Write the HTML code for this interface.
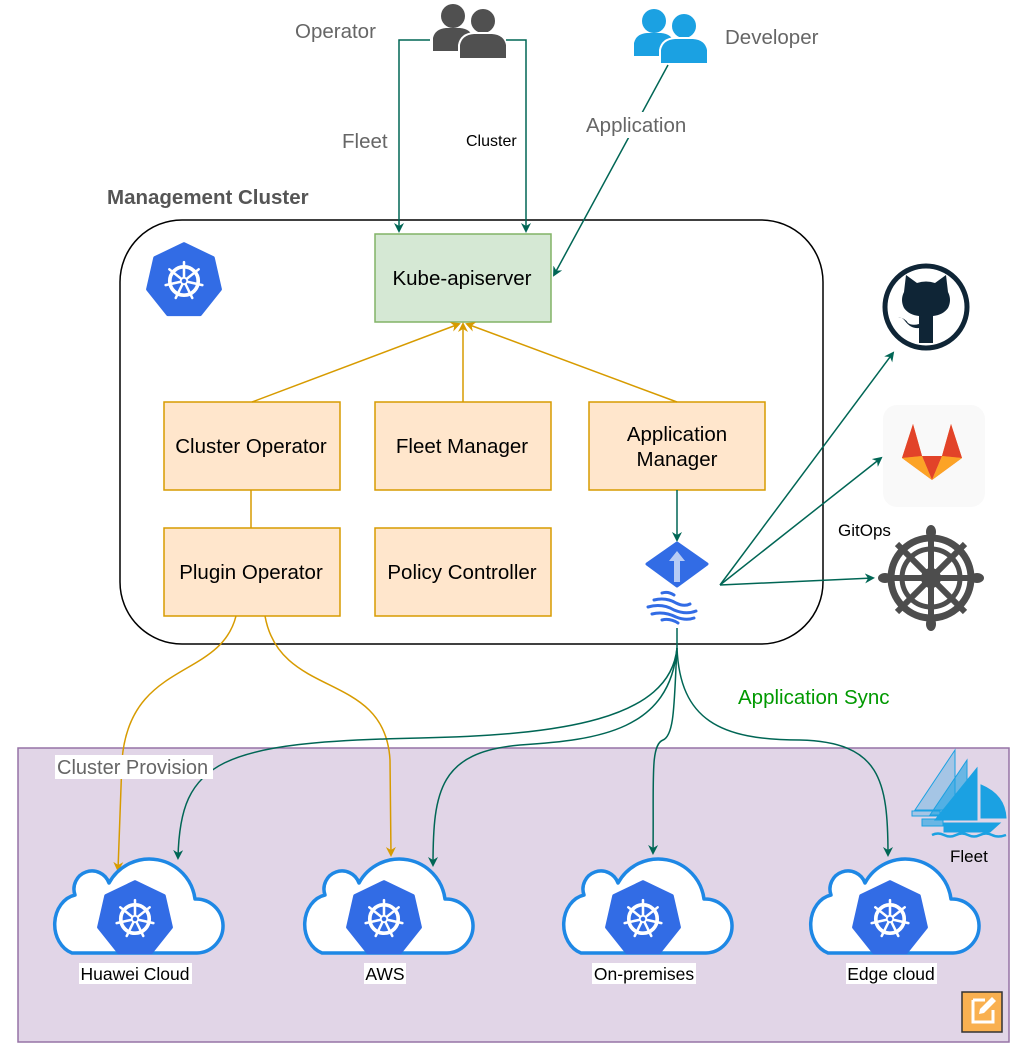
<!DOCTYPE html>
<html><head><meta charset="utf-8"><style>
html,body{margin:0;padding:0;background:#fff;}
svg{display:block;font-family:"Liberation Sans",Arial,sans-serif;}
</style></head><body>
<svg width="1029" height="1060" viewBox="0 0 1029 1060" xmlns="http://www.w3.org/2000/svg">
<defs>
  <marker id="ag" markerWidth="10" markerHeight="10" refX="8" refY="5" orient="auto" markerUnits="userSpaceOnUse">
    <path d="M0,0 L10,5 L0,10 L3,5 Z" fill="#006655"/>
  </marker>
  <marker id="ao" markerWidth="10" markerHeight="10" refX="8" refY="5" orient="auto" markerUnits="userSpaceOnUse">
    <path d="M0,0 L10,5 L0,10 L3,5 Z" fill="#d79b00"/>
  </marker>
  <g id="wheel">
    <circle r="0.62" fill="none" stroke="#fff" stroke-width="0.16"/>
    <g stroke="#fff" stroke-width="0.11" stroke-linecap="round">
      <line x1="0" y1="0" x2="0" y2="-0.82"/>
      <line x1="0" y1="0" x2="0.64" y2="-0.51"/>
      <line x1="0" y1="0" x2="0.80" y2="0.18"/>
      <line x1="0" y1="0" x2="0.36" y2="0.74"/>
      <line x1="0" y1="0" x2="-0.36" y2="0.74"/>
      <line x1="0" y1="0" x2="-0.80" y2="0.18"/>
      <line x1="0" y1="0" x2="-0.64" y2="-0.51"/>
    </g>
    <circle r="0.14" fill="#326ce5" stroke="#fff" stroke-width="0.08"/>
  </g>
  <g id="k8s">
    <polygon points="0,-1 0.782,-0.623 0.975,0.223 0.434,0.901 -0.434,0.901 -0.975,0.223 -0.782,-0.623" fill="#326ce5" stroke="#326ce5" stroke-width="0.1" stroke-linejoin="round"/>
    <g transform="scale(0.62)"><use href="#wheel"/></g>
  </g>
  <g id="cloud">
    <path d="M25,100 A25,30 0 0 1 28,42 A18,18 0 0 1 62,30 A46,46 0 0 1 148,46 A27,27 0 0 1 150,100 Z" fill="#fff" stroke="#1e88e5" stroke-width="3.5" stroke-linejoin="round"/>
  </g>
  <g id="users">
    <circle cx="21" cy="13" r="12"/>
    <path d="M1,48 L1,35 Q3,26 14,25 L28,25 Q39,26 41,35 L41,48 Z"/>
    <circle cx="51" cy="18" r="13" stroke="#fff" stroke-width="2"/>
    <path d="M27,56 L27,42 Q29,31 42,30 L60,30 Q73,31 75,42 L75,56 Z" stroke="#fff" stroke-width="2"/>
  </g>
</defs>

<!-- Fleet region -->
<rect x="18" y="748" width="991" height="294" fill="#e1d5e7" stroke="#9673a6" stroke-width="1.5"/>

<!-- Management cluster -->
<text x="107" y="204" font-size="20.5" font-weight="bold" fill="#555">Management Cluster</text>
<rect x="120" y="220" width="703" height="424" rx="62" ry="62" fill="#fff" stroke="#000" stroke-width="1.5"/>
<g transform="translate(184,281) scale(37)"><use href="#k8s"/></g>

<!-- users -->
<g fill="#505050" transform="translate(432,3)"><use href="#users"/></g>
<g fill="#1ba1e2" transform="translate(633,8)"><use href="#users"/></g>
<text x="295" y="38" font-size="20.5" fill="#666">Operator</text>
<text x="725" y="44" font-size="20.5" fill="#666">Developer</text>

<!-- top connectors -->
<polyline points="430,40 399,40 399,231" fill="none" stroke="#006655" stroke-width="1.5" marker-end="url(#ag)"/>
<polyline points="506,40 526,40 526,231" fill="none" stroke="#006655" stroke-width="1.5" marker-end="url(#ag)"/>
<line x1="668" y1="65" x2="554" y2="275" stroke="#006655" stroke-width="1.5" marker-end="url(#ag)"/>
<rect x="338" y="128" width="54" height="26" fill="#fff"/>
<text x="342" y="148" font-size="20.5" fill="#666">Fleet</text>
<text x="466" y="146" font-size="16" fill="#000">Cluster</text>
<rect x="584" y="112" width="104" height="26" fill="#fff"/>
<text x="586" y="132" font-size="20.5" fill="#666">Application</text>

<!-- boxes -->
<rect x="375" y="234" width="176" height="88" fill="#d5e8d4" stroke="#82b366" stroke-width="1.5"/>
<text x="462" y="285" font-size="20.5" text-anchor="middle">Kube-apiserver</text>
<g fill="#ffe6cc" stroke="#d79b00" stroke-width="1.5">
<rect x="164" y="402" width="176" height="88"/>
<rect x="375" y="402" width="176" height="88"/>
<rect x="589" y="402" width="176" height="88"/>
<rect x="164" y="528" width="176" height="88"/>
<rect x="375" y="528" width="176" height="88"/>
</g>
<g font-size="20.5" text-anchor="middle">
<text x="251" y="453">Cluster Operator</text>
<text x="462" y="453">Fleet Manager</text>
<text x="677" y="441">Application</text>
<text x="677" y="466">Manager</text>
<text x="251" y="579">Plugin Operator</text>
<text x="462" y="579">Policy Controller</text>
</g>

<!-- orange to apiserver -->
<g stroke="#d79b00" stroke-width="1.5" fill="none">
<line x1="252" y1="402" x2="459" y2="324" marker-end="url(#ao)"/>
<line x1="463" y1="402" x2="463" y2="324" marker-end="url(#ao)"/>
<line x1="677" y1="402" x2="467" y2="324" marker-end="url(#ao)"/>
<line x1="251" y1="490" x2="251" y2="528"/>
<path d="M236,616 C220,680 130,660 122,760 L118,870" marker-end="url(#ao)"/>
<path d="M265,616 C280,700 385,670 390,760 L391,855" marker-end="url(#ao)"/>
</g>

<!-- app manager to argo -->
<line x1="677" y1="490" x2="677" y2="540" stroke="#006655" stroke-width="1.5" marker-end="url(#ag)"/>
<polygon points="677,543 707,564 677,586 647,564" fill="#326ce5" stroke="#326ce5" stroke-width="3" stroke-linejoin="round"/>
<path d="M677,551 L685,561 L680,561 L680,582 L674,582 L674,561 L669,561 Z" fill="#b7ccf5"/>
<g stroke="#326ce5" stroke-width="3" fill="none" stroke-linecap="round">
<path d="M662,593 q6,-2 12,2"/>
<path d="M654,600 q12,-3 22,3 q8,4 14,1"/>
<path d="M648,607 q14,-4 26,3 q12,5 22,1"/>
<path d="M652,614 q12,-3 24,3 q10,4 18,1"/>
<path d="M662,620 q8,-2 16,3"/>
</g>

<!-- GitOps -->
<g stroke="#006655" stroke-width="1.5" fill="none">
<line x1="720" y1="585" x2="893" y2="353" marker-end="url(#ag)"/>
<line x1="720" y1="585" x2="881" y2="458" marker-end="url(#ag)"/>
<line x1="720" y1="585" x2="873" y2="578" marker-end="url(#ag)"/>
</g>
<text x="838" y="536" font-size="17" fill="#000">GitOps</text>

<!-- github -->
<circle cx="926" cy="307" r="41" fill="#fff" stroke="#0f2536" stroke-width="5"/>
<path d="M904,292 L906,275 L917,283 Q926,280 935,283 L946,275 L948,292 Q952,300 948,308 Q943,315 933,316 L933,343 L919,343 L919,328 Q911,329 905,321 Q902,317 898,317 Q905,318 908,323 Q912,326 919,324 L919,316 Q909,315 904,308 Q900,300 904,292 Z" fill="#0f2536"/>

<!-- gitlab -->
<rect x="883" y="405" width="102" height="102" rx="14" fill="#f9f9f9"/>
<polygon points="932,480 902,458 913,424 922,456" fill="#fc6d26"/>
<polygon points="932,480 962,458 951,424 942,456" fill="#fc6d26"/>
<polygon points="932,480 922,456 942,456" fill="#e24329"/>
<polygon points="902,458 913,424 922,456" fill="#e24329"/>
<polygon points="962,458 951,424 942,456" fill="#e24329"/>
<polygon points="902,458 932,480 922,456" fill="#fca326"/>
<polygon points="962,458 932,480 942,456" fill="#fca326"/>

<!-- helm wheel -->
<g transform="translate(931,578)" stroke="#4d4d4d" fill="none">
<circle r="40" stroke-width="7"/>
<circle r="29" stroke-width="5"/>
<circle r="8" stroke-width="4"/>
<g stroke-width="6">
<line x1="0" y1="-44" x2="0" y2="44"/>
<line x1="-44" y1="0" x2="44" y2="0"/>
<line x1="-34" y1="-34" x2="34" y2="34"/>
<line x1="-34" y1="34" x2="34" y2="-34"/>
</g>
<g fill="#4d4d4d" stroke="none">
<ellipse cx="0" cy="-46" rx="5" ry="7"/><ellipse cx="0" cy="46" rx="5" ry="7"/>
<ellipse cx="-46" cy="0" rx="7" ry="5"/><ellipse cx="46" cy="0" rx="7" ry="5"/>
</g>
</g>

<!-- application sync curves -->
<g stroke="#006655" stroke-width="1.5" fill="none">
<line x1="677" y1="628" x2="677" y2="648"/>
<path d="M677,648 C670,720 560,735 420,738 C220,742 180,760 178,858" marker-end="url(#ag)"/>
<path d="M677,648 C670,730 600,740 520,745 C440,752 433,790 433,865" marker-end="url(#ag)"/>
<path d="M677,648 C674,700 675,735 663,740 C650,745 654,780 653,853" marker-end="url(#ag)"/>
<path d="M677,648 C680,720 720,740 800,740 C880,742 888,780 888,855" marker-end="url(#ag)"/>
</g>
<text x="738" y="704" font-size="20.5" fill="#009900">Application Sync</text>
<rect x="55" y="755" width="158" height="24" fill="#fff"/>
<text x="57" y="774" font-size="20" fill="#666">Cluster Provision</text>

<!-- clouds -->
<g transform="translate(47,853)"><use href="#cloud"/></g>
<g transform="translate(297,853)"><use href="#cloud"/></g>
<g transform="translate(556,853)"><use href="#cloud"/></g>
<g transform="translate(803,853)"><use href="#cloud"/></g>
<g transform="translate(135,919) scale(37)"><use href="#k8s"/></g>
<g transform="translate(384,919) scale(37)"><use href="#k8s"/></g>
<g transform="translate(643,919) scale(37)"><use href="#k8s"/></g>
<g transform="translate(890,919) scale(37)"><use href="#k8s"/></g>
<g font-size="17.5" text-anchor="middle">
<rect x="79" y="963" width="113" height="21" fill="#fff"/>
<text x="135" y="980">Huawei Cloud</text>
<rect x="364" y="963" width="42" height="21" fill="#fff"/>
<text x="385" y="980">AWS</text>
<rect x="592" y="963" width="104" height="21" fill="#fff"/>
<text x="644" y="980">On-premises</text>
<rect x="846" y="963" width="91" height="21" fill="#fff"/>
<text x="891" y="980">Edge cloud</text>
</g>

<!-- fleet ships -->
<g stroke="#1ba1e2" stroke-width="1">
<polygon points="955,750 955,810 915,810" fill="#1ba1e2" fill-opacity="0.3"/>
<polygon points="967,760 967,815 930,815" fill="#1ba1e2" fill-opacity="0.6"/>
<polygon points="977,768 977,820 935,820" fill="#1ba1e2"/>
<path d="M981,785 Q1005,795 1006,818 L981,818 Z" fill="#1ba1e2"/>
<path d="M944,823 L1000,823 L990,832 L944,832 Z" fill="#1ba1e2"/>
<path d="M912,811 L940,811 L940,816 L912,816 Z" fill="#1ba1e2" fill-opacity="0.3"/>
<path d="M922,819 L943,819 L943,826 L922,826 Z" fill="#1ba1e2" fill-opacity="0.6"/>
<path d="M932,835 q6,-3 12,0 q6,3 12,0 q6,-3 12,0 q6,3 12,0 q6,-3 12,0 q6,3 14,0" fill="none" stroke-width="2.5"/>
</g>
<text x="950" y="862" font-size="17" fill="#000">Fleet</text>

<!-- edit icon -->
<rect x="962" y="992" width="40" height="40" fill="#f9b050" stroke="#333" stroke-width="1.5"/>
<path d="M973,1000 L985,1000 M973,1000 L973,1022 L993,1022 L993,1010" fill="none" stroke="#fff" stroke-width="3"/>
<path d="M979,1014 L980,1009 L992,997 L996,1001 L984,1013 Z" fill="#fff"/>
</svg>
</body></html>
